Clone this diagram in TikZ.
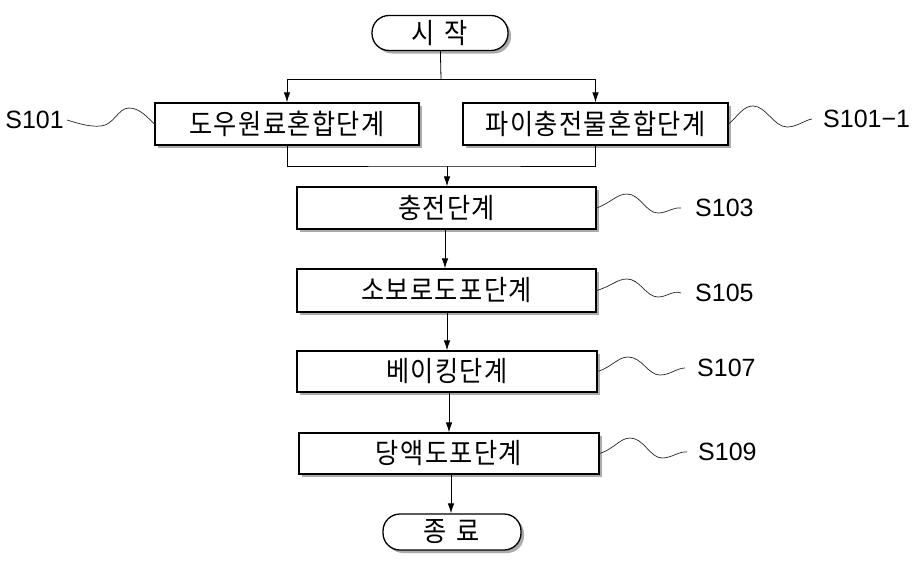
\documentclass[tikz,border=0pt]{standalone}
\usepackage{fontspec}
\setmainfont{Liberation Sans}
\newfontfamily\kr[FakeStretch=0.9,LetterSpace=5]{Noto Sans CJK KR}
\usetikzlibrary{shadows,arrows.meta}
\begin{document}
\begin{tikzpicture}[x=1pt,y=-1pt,
 stepbox/.style={draw, line width=1.3pt, fill=white, minimum height=42pt, inner sep=0pt,
   font=\kr\fontsize{28}{28}\selectfont,
   drop shadow={shadow xshift=3pt,shadow yshift=-3pt,fill=black!65}},
 term/.style={stepbox, rounded corners=17pt, minimum width=136pt, minimum height=35pt},
 conn/.style={line width=0.8pt},
 arr/.style={conn, -{Latex[length=10pt,width=6.5pt]}},
 lead/.style={line width=0.7pt, black!85},
 lab/.style={font=\fontsize{25}{25}\selectfont, inner sep=0pt}]
\useasboundingbox (0,0) rectangle (921,565);
\fill[white] (0,0) rectangle (921,565);

% nodes
\node[term] (start) at (440,33) {시\hspace{10pt}작};
\node[stepbox, minimum width=264pt] (b1) at (287,124) {도우원료혼합단계};
\node[stepbox, minimum width=265pt] (b2) at (595.5,124) {파이충전물혼합단계};
\node[stepbox, minimum width=299pt] (s103) at (446.5,208) {충전단계};
\node[stepbox, minimum width=299pt, minimum height=43pt] (s105) at (446.5,290.5) {소보로도포단계};
\node[stepbox, minimum width=300pt, minimum height=41pt] (s107) at (447,371.5) {베이킹단계};
\node[stepbox, minimum width=300pt, minimum height=41pt] (s109) at (449,453.5) {당액도포단계};
\node[term, minimum width=138pt, minimum height=36pt] (end) at (452,532) {종\hspace{10pt}료};

% labels
\node[lab, anchor=east] (l101) at (64,120) {S101};
\node[lab, anchor=west] (l1011) at (823,119) {S101−1};
\node[lab, anchor=west] (l103) at (695,208) {S103};
\node[lab, anchor=west] (l105) at (695,293) {S105};
\node[lab, anchor=west] (l107) at (697,368) {S107};
\node[lab, anchor=west] (l109) at (698,452) {S109};

% connectors
\coordinate (j1) at (441,79);
\coordinate (j2) at (447,166);
\draw[conn] (start) -- (j1);
\draw[arr] (j1) -| (b1.north);
\draw[arr] (j1) -| (b2.north);
\draw[conn] (b1.south) |- (j2) -| (b2.south);
\draw[arr] (j2) -- (j2 |- s103.north);
\draw[arr] (s103.south -| 445,0) -- (s105.north -| 445,0);
\draw[arr] (s105.south -| 447,0) -- (s107.north -| 447,0);
\draw[arr] (s107.south -| 449,0) -- (s109.north -| 449,0);
\draw[arr] (s109.south -| 451,0) -- (end.north -| 451,0);

% leaders
\draw[lead] ([xshift=3pt]l101.east) .. controls (80,124) and (90,127) .. (101,126)
  .. controls (114,125) and (118,108) .. (129,108)
  .. controls (140,108) and (148,118) .. (b1.west);
\draw[lead] (b2.east) .. controls (738,116) and (743,106) .. (753,106)
  .. controls (766,106) and (774,127) .. (787,127)
  .. controls (797,127) and (805,120) .. ([xshift=-11pt]l1011.west);
\draw[lead] (s103.east) .. controls (612,202) and (617,194) .. (627,194)
  .. controls (640,194) and (646,213) .. (658,213)
  .. controls (667,213) and (673,207) .. ([xshift=-14pt]l103.west);
\draw[lead] (s105.east) .. controls (612,286) and (617,279) .. (627,279)
  .. controls (640,279) and (646,297) .. (658,297)
  .. controls (667,297) and (673,290) .. ([xshift=-14pt]l105.west);
\draw[lead] (s107.east) .. controls (612,367) and (618,357) .. (628,357)
  .. controls (642,357) and (648,375) .. (660,375)
  .. controls (670,375) and (677,368) .. ([xshift=-12pt]l107.west);
\draw[lead] (s109.east) .. controls (614,449) and (620,438) .. (630,438)
  .. controls (644,438) and (650,458) .. (662,458)
  .. controls (672,458) and (679,451) .. ([xshift=-11pt]l109.west);
\end{tikzpicture}
\end{document}
